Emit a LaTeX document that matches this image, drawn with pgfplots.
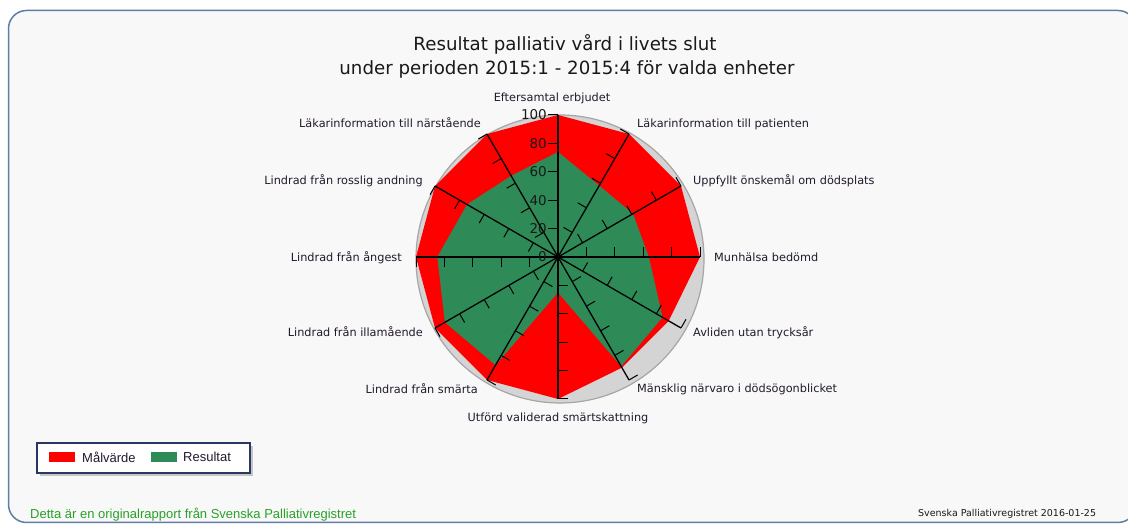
\documentclass[border=0pt]{standalone}
\usepackage{fontspec}
\setmainfont{DejaVu Sans}
\newfontfamily\arialf{Liberation Sans}
\usepackage{pgfplots}
\pgfplotsset{compat=1.18}
\usepgfplotslibrary{polar}

\definecolor{malred}{RGB}{255,0,0}
\definecolor{resgreen}{RGB}{46,139,87}
\definecolor{framec}{RGB}{95,125,165}
\definecolor{footgreen}{RGB}{40,160,40}
\definecolor{labelc}{RGB}{35,25,45}
\definecolor{shadowc}{RGB}{212,212,212}
\definecolor{legframe}{RGB}{40,55,100}

\pgfplotstableread{
angle value
90 100
60 100
30 100
0 100
-30 90
-60 90
-90 100
-120 100
-150 100
-180 100
-210 100
-240 100
}\malvarde

\pgfplotstableread{
angle value
90 74
60 58
30 61
0 64
-30 85
-60 89
-90 25
-120 88
-150 92
-180 85
-210 74
-240 66
}\resultat

\begin{document}
\begin{tikzpicture}[x=1bp,y=1bp]
\useasboundingbox (0,0) rectangle (1128,524);
\clip (0,0) rectangle (1128,524);
\fill[white] (0,0) rectangle (1128,524);
\draw[framec, line width=1.5bp, rounded corners=18bp, fill={rgb,255:red,248;green,248;blue,248}] (8.5,1.5) rectangle (1136,513.5);

% title
\node[anchor=base, inner sep=0, font=\fontsize{18.2bp}{22bp}\selectfont, text=black!90] at (565,473.3) {Resultat palliativ vård i livets slut};
\node[anchor=base, inner sep=0, font=\fontsize{18.2bp}{22bp}\selectfont, text=black!90] at (567,449) {under perioden 2015:1 - 2015:4 för valda enheter};

% shadow disc
\fill[shadowc] (560,265) circle (144);
\draw[gray!70, line width=1.2bp] (560,265) circle (144);

\begin{axis}[at={(416bp,125bp)}, anchor=south west, scale only axis,
  width=284bp, height=284bp, xmin=-100, xmax=100, ymin=-100, ymax=100,
  hide axis, clip=false]
\addplot[draw=none, fill=malred, data cs=polar] table[x=angle, y=value] {\malvarde};
\addplot[draw=none, fill=resgreen, data cs=polar] table[x=angle, y=value] {\resultat};
\end{axis}

% spokes and ticks
\begin{scope}[shift={(558,267)}]
\foreach \a in {0,30,...,330} {
  \draw[black, line width=1.3bp] (0,0) -- (\a:142);
  \foreach \r in {20,40,60,80,100}
    \draw[black, line width=1bp] (\a:{1.42*\r}) -- ++({\a+90}:10);
}
\fill[black] (0,0) circle (2.2);
\foreach \r in {0,20,40,60,80,100}
  \node[anchor=east, inner sep=0, font=\fontsize{13.5bp}{15bp}\selectfont, text=black!90] at (-11,{1.42*\r}) {\r};
\end{scope}

% category labels
\begin{scope}[every node/.style={inner sep=0, font=\fontsize{11.3bp}{13bp}\selectfont, text=labelc}]
\node[anchor=base] at (552,{524-101.5}) {Eftersamtal erbjudet};
\node[anchor=base west] at (637,{524-127.5}) {Läkarinformation till patienten};
\node[anchor=base west] at (693,{524-184.5}) {Uppfyllt önskemål om dödsplats};
\node[anchor=base west] at (714,{524-261.5}) {Munhälsa bedömd};
\node[anchor=base west] at (693,{524-336.5}) {Avliden utan trycksår};
\node[anchor=base west] at (637,{524-393}) {Mänsklig närvaro i dödsögonblicket};
\node[anchor=base] at (558,{524-421.5}) {Utförd validerad smärtskattning};
\node[anchor=base east] at (478,{524-393.5}) {Lindrad från smärta};
\node[anchor=base east] at (423,{524-336.5}) {Lindrad från illamående};
\node[anchor=base east] at (402,{524-261.5}) {Lindrad från ångest};
\node[anchor=base east] at (423,{524-184.5}) {Lindrad från rosslig andning};
\node[anchor=base east] at (481,{524-127.5}) {Läkarinformation till närstående};
\end{scope}

% legend
\fill[gray!45] (40,48) rectangle (253,78);
\draw[legframe, line width=1.3bp, fill=white] (37,51) rectangle (250,81);
\fill[malred] (49,62) rectangle (75,72);
\node[anchor=west, inner sep=0, font=\arialf\fontsize{13bp}{15bp}\selectfont, text=labelc] at (82,67) {Målvärde};
\fill[resgreen] (151,62) rectangle (177,72);
\node[anchor=west, inner sep=0, font=\arialf\fontsize{13bp}{15bp}\selectfont, text=labelc] at (183,67) {Resultat};

% footers
\node[anchor=base west, inner sep=0, font=\arialf\fontsize{13bp}{15bp}\selectfont, text=footgreen] at (30,5) {Detta är en originalrapport från Svenska Palliativregistret};
\node[anchor=base west, inner sep=0, font=\fontsize{9.5bp}{11bp}\selectfont, text=black!90] at (918,7) {Svenska Palliativregistret 2016-01-25};
\end{tikzpicture}
\end{document}
